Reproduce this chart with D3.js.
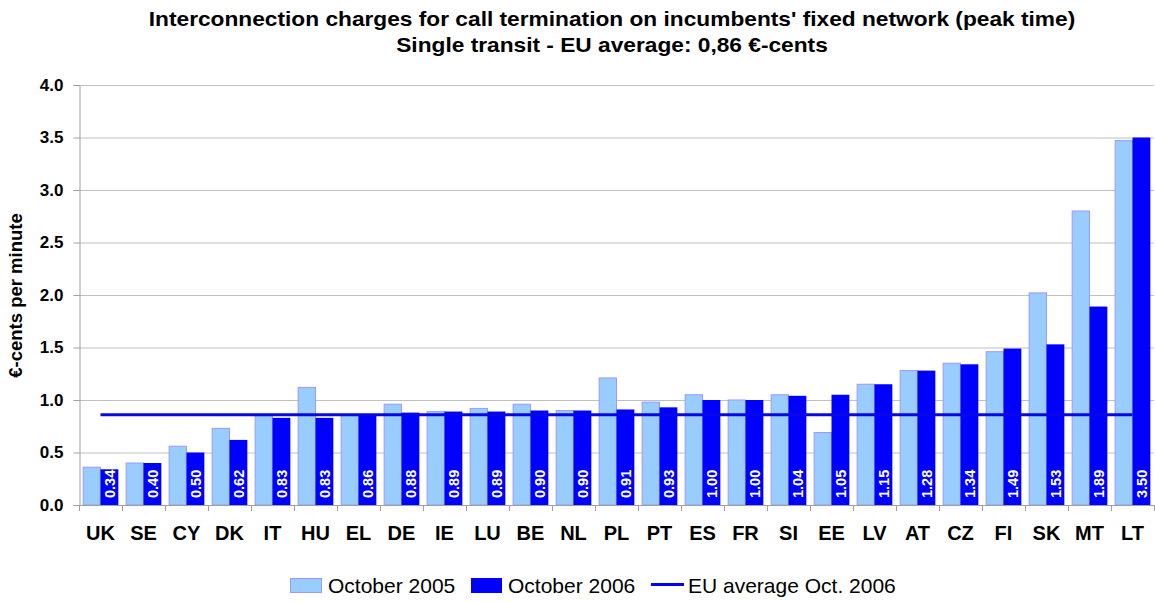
<!DOCTYPE html>
<html><head><meta charset="utf-8">
<script src="https://cdn.jsdelivr.net/npm/d3@7"></script>
<style>body{margin:0;background:#fff}svg{display:block}text{font-family:"Liberation Sans",Arial,sans-serif}</style>
</head><body>
<script>
const categories = ["UK","SE","CY","DK","IT","HU","EL","DE","IE","LU","BE","NL","PL","PT","ES","FR","SI","EE","LV","AT","CZ","FI","SK","MT","LT"];
const oct2005 = [0.36,0.40,0.56,0.73,0.85,1.12,0.86,0.96,0.89,0.92,0.96,0.90,1.21,0.98,1.05,1.00,1.05,0.69,1.15,1.28,1.35,1.46,2.02,2.80,3.47];
const oct2006 = [0.34,0.40,0.50,0.62,0.83,0.83,0.86,0.88,0.89,0.89,0.90,0.90,0.91,0.93,1.00,1.00,1.04,1.05,1.15,1.28,1.34,1.49,1.53,1.89,3.50];
const euAverage = 0.86;
const yTicks = [0,0.5,1,1.5,2,2.5,3,3.5,4];
const seriesNames = ["October 2005","October 2006","EU average Oct. 2006"];
const titleLines = ["Interconnection charges for call termination on incumbents' fixed network (peak time)","Single transit - EU average: 0,86 €-cents"];

const W=1155,H=602;
const m={l:79,r:1,t:85,b:97};
const svg=d3.select("body").append("svg").attr("width",W).attr("height",H);
const x=d3.scaleBand().domain(categories).range([m.l,W-m.r]).paddingInner(0.17).paddingOuter(0.085);
const xs=d3.scaleBand().domain(["a","b"]).range([0,x.bandwidth()]);
const y=d3.scaleLinear().domain([0,4]).range([H-m.b,m.t]);
const catW=(W-m.r-m.l)/categories.length;

// title
const tg=svg.append("g");
const t1=tg.append("text").attr("x",0).attr("y",0).attr("text-anchor","middle").attr("font-weight","bold").attr("font-size",20).text(titleLines[0]);
const f=927/t1.node().getComputedTextLength();
t1.attr("transform",`translate(612,26) scale(${f},1)`);
tg.append("text").attr("transform",`translate(612,52) scale(${f},1)`).attr("text-anchor","middle").attr("font-weight","bold").attr("font-size",20).text(titleLines[1]);

// grid
svg.append("g").selectAll("line").data(yTicks.filter(d=>d>0)).join("line")
 .attr("x1",m.l).attr("x2",W-m.r).attr("y1",d=>y(d)+0.5).attr("y2",d=>y(d)+0.5).attr("stroke","#c0c0c0").attr("stroke-width",1);

// y axis
const ya=svg.append("g").attr("transform",`translate(${m.l+0.5},0)`).call(d3.axisLeft(y).tickValues(yTicks).tickFormat(d3.format(".1f")).tickSize(6).tickPadding(10));
ya.select(".domain").attr("stroke","#a0a0a0");
ya.selectAll(".tick line").attr("stroke","#a0a0a0");
ya.selectAll("text").attr("font-size",17).attr("font-weight","bold").attr("fill","#000").attr("font-family","Liberation Sans, Arial, sans-serif");

svg.append("text").attr("transform",`translate(22,${(213+378)/2}) rotate(-90)`).attr("text-anchor","middle").attr("font-weight","bold").attr("font-size",18.5).text("€-cents per minute");

// bars
const g=svg.append("g");
g.selectAll("rect.a").data(categories).join("rect").attr("class","a")
 .attr("x",(d)=>x(d)+0.5).attr("width",xs.bandwidth()-0.5)
 .attr("y",(d,i)=>y(oct2005[i])).attr("height",(d,i)=>y(0)-y(oct2005[i]))
 .attr("fill","#99ccff").attr("stroke","#9999ff").attr("stroke-width",1);
g.selectAll("rect.b").data(categories).join("rect").attr("class","b")
 .attr("x",(d)=>x(d)+xs("b")).attr("width",xs.bandwidth())
 .attr("y",(d,i)=>y(oct2006[i])).attr("height",(d,i)=>y(0)-y(oct2006[i]))
 .attr("fill","#0000ff");

// x axis
svg.append("line").attr("x1",m.l).attr("x2",W-m.r).attr("y1",y(0)+0.5).attr("y2",y(0)+0.5).attr("stroke","#a0a0a0");
svg.append("g").selectAll("line").data(d3.range(categories.length+1)).join("line")
 .attr("x1",i=>m.l+i*catW+0.5).attr("x2",i=>m.l+i*catW+0.5).attr("y1",y(0)).attr("y2",y(0)+6).attr("stroke","#a0a0a0");
svg.append("g").selectAll("text").data(categories).join("text")
 .attr("x",d=>x(d)+x.bandwidth()/2).attr("y",540).attr("text-anchor","middle").attr("font-weight","bold").attr("font-size",20).text(d=>d);

// EU average line
svg.append("line").attr("x1",x(categories[0])+x.bandwidth()/2).attr("x2",x(categories[categories.length-1])+x.bandwidth()/2)
 .attr("y1",y(euAverage)).attr("y2",y(euAverage)).attr("stroke","#0808e6").attr("stroke-width",3);

// labels
svg.append("g").selectAll("text").data(categories).join("text")
 .attr("transform",(d)=>`translate(${x(d)+xs("b")+xs.bandwidth()/2+5.5},${y(0)-7}) rotate(-90)`)
 .attr("fill","#fff").attr("font-weight","bold").attr("font-size",14.5).attr("text-anchor","start")
 .text((d,i)=>oct2006[i].toFixed(2));

// legend
const lg=svg.append("g");
lg.append("rect").attr("x",290.5).attr("y",578.5).attr("width",31).attr("height",14).attr("fill","#99ccff").attr("stroke","#9999ff");
lg.append("text").attr("x",328).attr("y",593).attr("font-size",21).text(seriesNames[0]);
lg.append("rect").attr("x",471).attr("y",578).attr("width",31).attr("height",15).attr("fill","#0000ff");
lg.append("text").attr("x",508).attr("y",593).attr("font-size",21).text(seriesNames[1]);
lg.append("line").attr("x1",651).attr("x2",684).attr("y1",584.5).attr("y2",584.5).attr("stroke","#0000ff").attr("stroke-width",3);
lg.append("text").attr("x",688).attr("y",593).attr("font-size",21).text(seriesNames[2]);
</script>
</body></html>
